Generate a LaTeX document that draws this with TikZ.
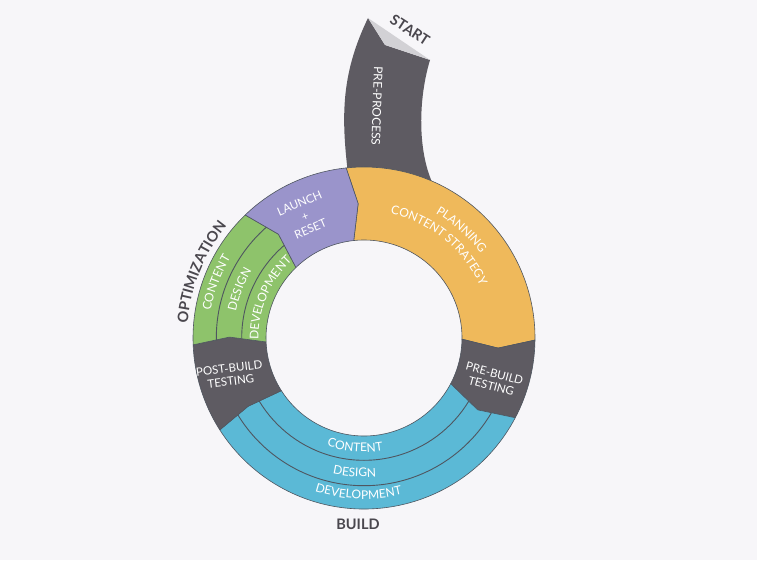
\documentclass[tikz,border=0pt]{standalone}
\usepackage{fontspec}
\newfontfamily\labelfont{Lato}
\usetikzlibrary{decorations.text}

\definecolor{bgcol}{HTML}{F7F6F9}
\definecolor{slate}{HTML}{5E5B62}
\definecolor{lilac}{HTML}{9A94CB}
\definecolor{amber}{HTML}{EFB95B}
\definecolor{leaf}{HTML}{8EC36B}
\definecolor{sky}{HTML}{5BB9D6}
\definecolor{fold}{HTML}{D2D1D5}
\definecolor{inkcol}{HTML}{4A474E}
\definecolor{edgecol}{HTML}{4F5660}

\newcommand{\rOut}{171pt}
\newcommand{\rIn}{98pt}
\newcommand{\rMid}{134.5pt}
% ring segment: start angle, end angle, notch depth, tip depth
\newcommand{\segpath}[4]{(#1:\rOut) arc[start angle=#1, end angle=#2, radius=\rOut] -- ({#2-#4}:\rMid) -- (#2:\rIn) arc[start angle=#2, end angle=#1, radius=\rIn] -- ({#1-#3}:\rMid) -- cycle}
\newcommand{\lblfont}{\labelfont\fontsize{12}{14}\selectfont}
\newcommand{\headfont}{\labelfont\bfseries\fontsize{14.5}{16}\selectfont}

\tikzset{
  seg/.style={draw=edgecol, line width=0.6pt, line join=round},
  subline/.style={draw=edgecol, line width=0.9pt},
  lbl/.style={text=white, font=\lblfont, inner sep=0pt},
  head/.style={text=inkcol, font=\headfont, inner sep=0pt},
  arclbl/.style={decorate, decoration={text along path, text align=center, text color=white, text={|\lblfont|#1}}},
  archead/.style={decorate, decoration={text along path, text align=center, text color=inkcol, text={|\headfont|#1}}}
}

\begin{document}
\begin{tikzpicture}[x=1pt, y=1pt]

\fill[bgcol] (0,0) rectangle (757,560);

% pre-process tail
\fill[slate] (347,395) .. controls (341,450) and (343,490) .. (368,542)
  -- (385,515) -- (430,500) .. controls (418,460) and (418,410) .. (432,378)
  -- (400,340) -- (350,345) -- cycle;
\fill[fold] (368,542) -- (430,500) -- (385,515) -- cycle;
\node[lbl, rotate=-92] (preproc) at (377,454) {PRE-PROCESS};
\node[head, rotate=-33] (start) at (410,530) {START};

\begin{scope}[shift={(364,222)}]
  % ring
  \filldraw[seg, fill=amber] \segpath{96}{-0.7}{3.5}{3.6};
  \filldraw[seg, fill=slate] \segpath{-0.7}{-27.8}{3.6}{4.5};
  \filldraw[seg, fill=sky] \segpath{-27.8}{-147.5}{4.5}{2};
  \filldraw[seg, fill=slate] \segpath{-147.5}{-177.7}{2}{2.7};
  \filldraw[seg, fill=leaf] \segpath{182.3}{134}{2.7}{4.5};
  \filldraw[seg, fill=lilac] \segpath{134}{96}{4.5}{3.5};

  \begin{scope}
    \clip \segpath{-27.8}{-147.5}{4.5}{2};
    \draw[subline] (0,0) circle[radius=122.3pt] (0,0) circle[radius=147.7pt];
  \end{scope}
  \begin{scope}
    \clip \segpath{182.3}{134}{2.7}{4.5};
    \draw[subline] (0,0) circle[radius=122.3pt] (0,0) circle[radius=147.7pt];
  \end{scope}

  % labels
  \path[arclbl=PLANNING] (90:144) arc[start angle=90, end angle=6, radius=144pt];
  \path[arclbl=CONTENT STRATEGY] (96:127) arc[start angle=96, end angle=6, radius=127pt];
  \node[lbl, rotate=-15, align=center, font=\labelfont\fontsize{11.5}{13}\selectfont] (prebuild) at (-18:135.5) {PRE-BUILD\\TESTING};
  \path[arclbl=CONTENT] (-134.7:114) arc[start angle=-134.7, end angle=-54.7, radius=114pt];
  \path[arclbl=DESIGN] (-134:139) arc[start angle=-134, end angle=-54, radius=139pt];
  \path[arclbl=DEVELOPMENT] (-132:161) arc[start angle=-132, end angle=-52, radius=161pt];
  \node[lbl, rotate=7, align=center, font=\labelfont\fontsize{11.5}{13}\selectfont] (postbuild) at (195.4:139) {POST-BUILD\\TESTING};
  \path[arclbl=CONTENT] (195:155.7) arc[start angle=195, end angle=124, radius=155.7pt];
  \path[arclbl=DESIGN] (194:130.7) arc[start angle=194, end angle=123.4, radius=130.7pt];
  \path[arclbl=DEVELOPMENT] (192:105.5) arc[start angle=192, end angle=122, radius=105.5pt];
  \node[lbl, rotate=23, align=center, font=\labelfont\fontsize{11.5}{14}\selectfont] (launch) at (115.8:135.5) {LAUNCH\\+\\RESET};
  \path[archead=OPTIMIZATION] (198:177) arc[start angle=198, end angle=118, radius=177pt];
\end{scope}

\node[head] (build) at (358,36) {BUILD};

\end{tikzpicture}
\end{document}
